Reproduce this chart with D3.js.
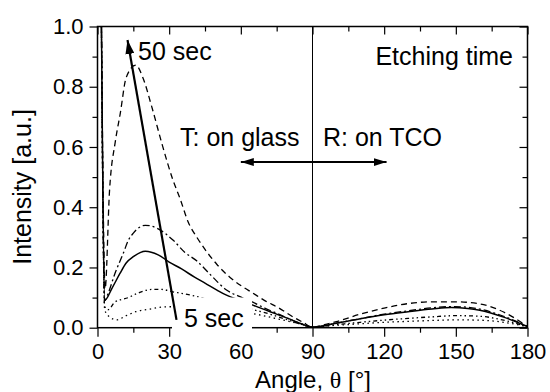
<!DOCTYPE html>
<html>
<head>
<meta charset="utf-8">
<script src="https://cdn.jsdelivr.net/npm/d3@7.9.0/dist/d3.min.js"></script>
<style>
  html, body { margin: 0; padding: 0; background: #fff; }
  svg { display: block; font-family: Arial, "Liberation Sans", sans-serif; }
</style>
</head>
<body>
<div id="chart"></div>
<script>
// angle [deg], intensity [a.u.]
const curve50s = [
  [1.6, 1.05], [3.2, 0.13], [5, 0.45], [7.5, 0.62], [9.5, 0.71], [12, 0.83], [16, 0.872], [19, 0.83],
  [22.7, 0.734], [27, 0.61], [31.6, 0.49], [34.5, 0.43], [38, 0.35], [41.6, 0.3], [45, 0.26],
  [50, 0.21], [55.5, 0.167], [60, 0.14], [65, 0.115], [70, 0.09], [76, 0.065], [82, 0.035],
  [86, 0.018], [90, 0.002], [95, 0.01], [100, 0.02], [110, 0.045], [120, 0.065], [130, 0.08],
  [140, 0.086], [150, 0.086], [160, 0.079], [170, 0.052], [175, 0.03], [180, 0.003]
];
const curveB = [
  [1.6, 1.05], [3, 0.09], [4.5, 0.115], [7.3, 0.18], [10.8, 0.247], [12.9, 0.29], [15, 0.314],
  [20, 0.34], [25, 0.33], [31.7, 0.29], [36.6, 0.25], [41.5, 0.222], [48, 0.17], [54, 0.125],
  [59.6, 0.103], [65, 0.085], [70, 0.065], [75, 0.048], [80, 0.03], [85, 0.014], [90, 0.002],
  [100, 0.015], [110, 0.03], [120, 0.045], [130, 0.056], [140, 0.066], [148, 0.07], [155, 0.068],
  [160, 0.062], [170, 0.038], [180, 0.004]
];
const curveC = [
  [1.6, 1.05], [3.1, 0.092], [6, 0.13], [9.4, 0.18], [12, 0.215], [15, 0.236], [20, 0.254],
  [25.4, 0.242], [30, 0.218], [35.2, 0.195], [40.8, 0.167], [45, 0.148], [50, 0.125], [54, 0.108],
  [60, 0.09], [65, 0.075], [70, 0.06], [75, 0.045], [80, 0.03], [85, 0.014], [90, 0.002],
  [100, 0.015], [110, 0.03], [120, 0.043], [130, 0.053], [140, 0.062], [148, 0.067], [155, 0.064],
  [160, 0.058], [170, 0.035], [180, 0.004]
];
const curveD = [
  [1.6, 1.05], [3, 0.07], [4.5, 0.06], [7.3, 0.085], [12.9, 0.1], [17, 0.115], [22.7, 0.127],
  [27, 0.127], [31, 0.12], [36, 0.113], [40.8, 0.105], [50, 0.085], [60, 0.07], [65, 0.06],
  [70, 0.05], [75, 0.038], [80, 0.025], [85, 0.012], [90, 0.002], [100, 0.01], [110, 0.018],
  [120, 0.025], [130, 0.031], [140, 0.036], [150, 0.04], [160, 0.038], [170, 0.025], [180, 0.003]
];
const curve5s = [
  [1.6, 1.05], [3, 0.06], [5, 0.036], [8, 0.026], [12, 0.04], [16, 0.053], [22, 0.062], [28, 0.069],
  [35, 0.07], [45, 0.066], [55, 0.058], [65, 0.047], [75, 0.03], [85, 0.012], [90, 0.002],
  [100, 0.008], [110, 0.013], [120, 0.018], [130, 0.021], [140, 0.024], [150, 0.026], [160, 0.025],
  [170, 0.018], [180, 0.003]
];
const series = [curve50s, curveB, curveC, curveD, curve5s];
const dashes = ['6,4', '7,3,2,3', null, '4,3,1.5,3,1.5,3', '1.5,3.5'];

const angleTicks = [0, 30, 60, 90, 120, 150, 180];
const angleMinor = [15, 45, 75, 105, 135, 165];
const intensityTicks = [0, 0.2, 0.4, 0.6, 0.8, 1.0];
const intensityMinor = [0.1, 0.3, 0.5, 0.7, 0.9];

const timeArrow = [[33.07, 0.026], [12.56, 0.955]];
const sideArrow = [[60, 0.55], [121, 0.55]];

const width = 550, height = 392;
const margin = { top: 26.5, right: 22.5, bottom: 64.3, left: 97.5 };

const x = d3.scaleLinear().domain([0, 180]).range([margin.left, width - margin.right]);
const y = d3.scaleLinear().domain([0, 1]).range([height - margin.bottom, margin.top]);

const svg = d3.select('#chart').append('svg')
  .attr('width', width).attr('height', height);

const defs = svg.append('defs');
defs.append('clipPath').attr('id', 'plot')
  .append('rect')
  .attr('x', x(0)).attr('y', y(1))
  .attr('width', x(180) - x(0)).attr('height', y(0) - y(1));
defs.append('marker').attr('id', 'head')
  .attr('markerUnits', 'userSpaceOnUse')
  .attr('viewBox', '0 0 13 8').attr('refX', 13).attr('refY', 4)
  .attr('markerWidth', 13).attr('markerHeight', 8).attr('orient', 'auto-start-reverse')
  .append('path').attr('d', 'M0,0L13,4L0,8Z').attr('fill', '#000');
defs.append('marker').attr('id', 'bighead')
  .attr('markerUnits', 'userSpaceOnUse')
  .attr('viewBox', '0 0 14 9').attr('refX', 14).attr('refY', 4.5)
  .attr('markerWidth', 14).attr('markerHeight', 9).attr('orient', 'auto')
  .append('path').attr('d', 'M0,0L14,4.5L0,9Z').attr('fill', '#000');

// divider at 90 deg
svg.append('line')
  .attr('x1', x(90)).attr('x2', x(90)).attr('y1', y(0)).attr('y2', y(1))
  .attr('stroke', '#000').attr('stroke-width', 1);

const line = d3.line().x(d => x(d[0])).y(d => y(d[1])).curve(d3.curveMonotoneX);

svg.append('g').attr('clip-path', 'url(#plot)')
  .selectAll('path')
  .data(series)
  .join('path')
  .attr('d', line)
  .attr('fill', 'none')
  .attr('stroke', '#000')
  .attr('stroke-width', (d, i) => i === 2 ? 1.5 : 1.3)
  .attr('stroke-dasharray', (d, i) => dashes[i]);

// axes
svg.append('g').attr('transform', `translate(0,${y(0)})`)
  .call(d3.axisBottom(x).tickValues(angleTicks).tickSize(9).tickPadding(7).tickFormat(d3.format('d')));
svg.append('g').attr('transform', `translate(0,${y(0)})`)
  .call(d3.axisBottom(x).tickValues(angleMinor).tickSize(5).tickFormat(''));
svg.append('g').attr('transform', `translate(0,${y(1)})`)
  .call(d3.axisBottom(x).tickValues(angleTicks).tickSize(8).tickFormat(''));
svg.append('g').attr('transform', `translate(0,${y(1)})`)
  .call(d3.axisBottom(x).tickValues(angleMinor).tickSize(5).tickFormat(''));
svg.append('g').attr('transform', `translate(${x(0)},0)`)
  .call(d3.axisLeft(y).tickValues(intensityTicks).tickSize(8).tickPadding(6).tickFormat(d3.format('.1f')));
svg.append('g').attr('transform', `translate(${x(0)},0)`)
  .call(d3.axisLeft(y).tickValues(intensityMinor).tickSize(5).tickFormat(''));
svg.append('g').attr('transform', `translate(${x(180)},0)`)
  .call(d3.axisLeft(y).tickValues(intensityTicks).tickSize(8).tickFormat(''));
svg.append('g').attr('transform', `translate(${x(180)},0)`)
  .call(d3.axisLeft(y).tickValues(intensityMinor).tickSize(5).tickFormat(''));

svg.selectAll('.domain').remove();
svg.selectAll('.tick line').attr('stroke', '#000').attr('stroke-width', 1.2);
svg.selectAll('.tick text').attr('font-size', 22).attr('font-family', 'Arial, "Liberation Sans", sans-serif').attr('fill', '#000');

svg.append('rect')
  .attr('x', x(0)).attr('y', y(1))
  .attr('width', x(180) - x(0)).attr('height', y(0) - y(1))
  .attr('fill', 'none').attr('stroke', '#000').attr('stroke-width', 1.5);

// white label box under "5 sec"
svg.append('rect')
  .attr('x', 172).attr('y', 297.5).attr('width', 80).attr('height', 42)
  .attr('fill', '#fff');

// arrows
svg.append('line')
  .attr('x1', x(timeArrow[0][0])).attr('y1', y(timeArrow[0][1]))
  .attr('x2', x(timeArrow[1][0])).attr('y2', y(timeArrow[1][1]))
  .attr('stroke', '#000').attr('stroke-width', 2.2)
  .attr('marker-end', 'url(#bighead)');
svg.append('line')
  .attr('x1', x(sideArrow[0][0])).attr('y1', y(sideArrow[0][1]))
  .attr('x2', x(sideArrow[1][0])).attr('y2', y(sideArrow[1][1]))
  .attr('stroke', '#000').attr('stroke-width', 2)
  .attr('marker-start', 'url(#head)').attr('marker-end', 'url(#head)');

const label = (t, px, py, anchor) => svg.append('text')
  .attr('x', px).attr('y', py).attr('text-anchor', anchor || 'start')
  .attr('font-size', 25).attr('fill', '#000').text(t);

label('50 sec', 138, 60);
label('5 sec', 184, 327);
label('T: on glass', 180, 146);
label('R: on TCO', 323, 146);
label('Etching time', 513, 65, 'end');

svg.append('text')
  .attr('x', 313).attr('y', 388)
  .attr('text-anchor', 'middle').attr('font-size', 24)
  .html('Angle, <tspan font-family="Liberation Serif, serif">θ</tspan> [°]');

svg.append('text')
  .attr('transform', `translate(31,187) rotate(-90)`)
  .attr('text-anchor', 'middle').attr('font-size', 25)
  .text('Intensity [a.u.]');
</script>
</body>
</html>
